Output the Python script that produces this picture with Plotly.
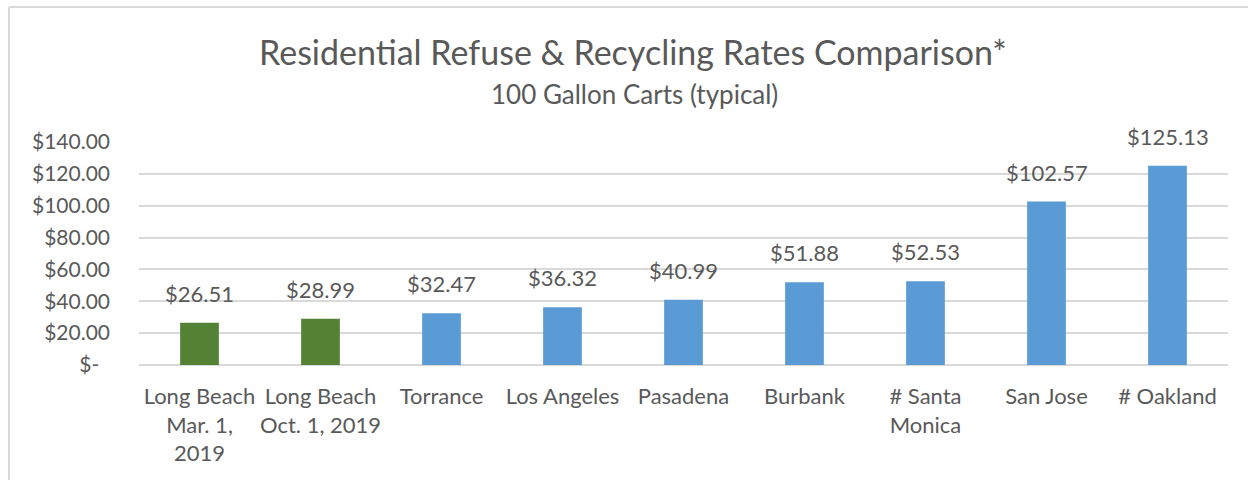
import plotly.graph_objects as go

categories = ["Long Beach Mar. 1, 2019", "Long Beach Oct. 1, 2019", "Torrance", "Los Angeles",
              "Pasadena", "Burbank", "# Santa Monica", "San Jose", "# Oakland"]
tick_labels = ["Long Beach<br>Mar. 1,<br>2019", "Long Beach<br>Oct. 1, 2019", "Torrance", "Los Angeles",
               "Pasadena", "Burbank", "# Santa<br>Monica", "San Jose", "# Oakland"]
rates = [26.51, 28.99, 32.47, 36.32, 40.99, 51.88, 52.53, 102.57, 125.13]
bar_colors = ["#548235", "#548235", "#5B9BD5", "#5B9BD5", "#5B9BD5", "#5B9BD5", "#5B9BD5", "#5B9BD5", "#5B9BD5"]
y_ticks = [0, 20, 40, 60, 80, 100, 120, 140]
y_tick_text = ["$-\u00a0\u00a0", "$20.00", "$40.00", "$60.00", "$80.00", "$100.00", "$120.00", "$140.00"]

FONT = "Lato"
TXT = "#595959"

W, H = 1248, 480
L, R, T, B = 139, 20, 142, 115
pw, ph = W - L - R, H - T - B

fig = go.Figure()
fig.add_trace(go.Bar(x=categories, y=rates, marker=dict(color=bar_colors, line=dict(width=0)),
                     hoverinfo="x+y"))

for c, v in zip(categories, rates):
    fig.add_annotation(x=c, y=v, text=f"${v:.2f}", showarrow=False, yanchor="bottom",
                       yshift=14, font=dict(family=FONT, size=22, color=TXT))

# title & subtitle
fig.add_annotation(xref="paper", yref="paper", x=(633 - L) / pw, y=1 + (T - 52) / ph,
                   text="Residential Refuse & Recycling Rates Comparison*", showarrow=False,
                   xanchor="center", yanchor="middle", font=dict(family=FONT, size=34, color=TXT))
fig.add_annotation(xref="paper", yref="paper", x=(634 - L) / pw, y=1 + (T - 94) / ph,
                   text="100 Gallon Carts (typical)", showarrow=False,
                   xanchor="center", yanchor="middle", font=dict(family=FONT, size=26, color=TXT))

# chart frame (left and top edges visible)
bx = (9 - L) / pw
by = 1 + (T - 7) / ph
fig.add_shape(type="line", xref="paper", yref="paper", x0=bx, x1=bx, y0=-2, y1=by,
              line=dict(color="#D9D9D9", width=2))
fig.add_shape(type="line", xref="paper", yref="paper", x0=bx, x1=3, y0=by, y1=by,
              line=dict(color="#D9D9D9", width=2))

fig.update_layout(
    width=W, height=H,
    margin=dict(l=L, r=R, t=T, b=B, autoexpand=False),
    paper_bgcolor="white", plot_bgcolor="white",
    showlegend=False, bargap=0.68,
    font=dict(family=FONT, size=22, color=TXT),
    xaxis=dict(tickvals=categories, ticktext=tick_labels, showgrid=False, showline=False,
               zeroline=False, ticks="", tickfont=dict(family=FONT, size=22, color=TXT),
               ticklabelstandoff=16),
    yaxis=dict(range=[0, 140], tickvals=y_ticks, ticktext=y_tick_text, showgrid=True,
               gridcolor="#D9D9D9", gridwidth=2, zeroline=True, zerolinecolor="#D9D9D9",
               zerolinewidth=2, showline=False, ticks="",
               tickfont=dict(family=FONT, size=21, color=TXT), ticklabelstandoff=28),
)

fig.write_html("out.html", config={"displayModeBar": False},
               post_script="document.body.style.margin='0px';")
